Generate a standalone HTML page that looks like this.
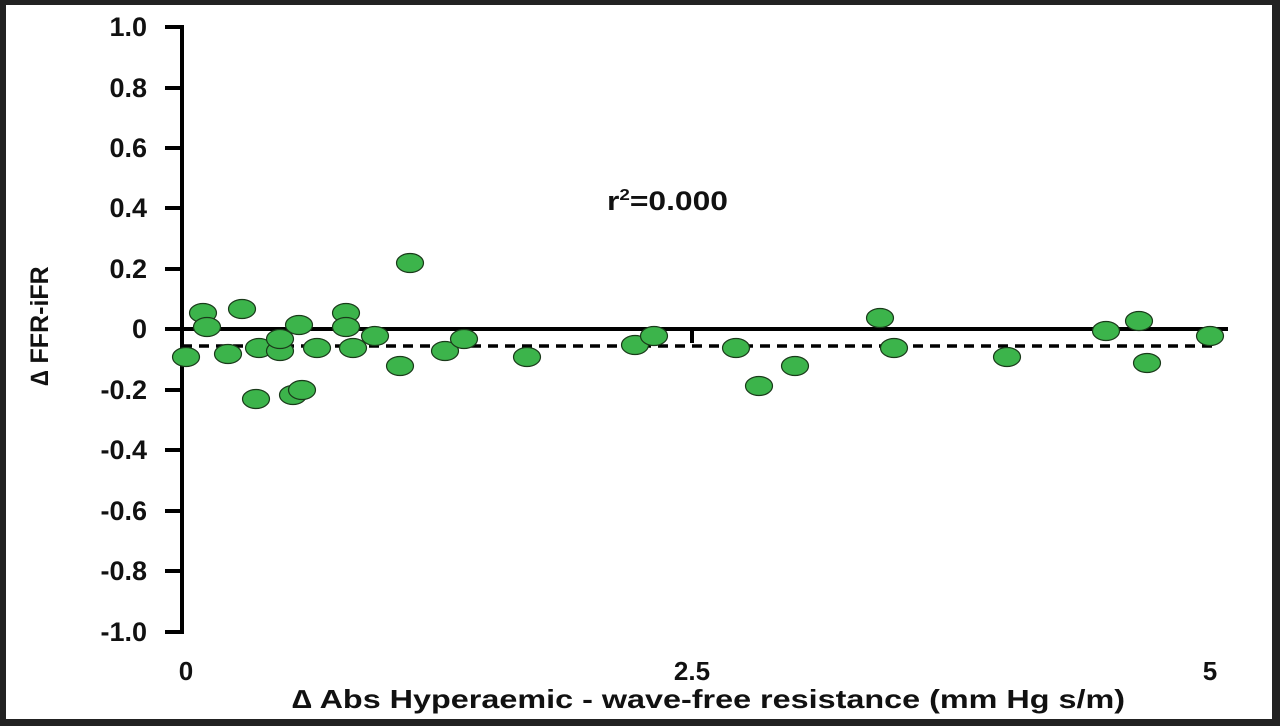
<!DOCTYPE html>
<html><head><style>
html,body{margin:0;padding:0;background:#222;}
</style></head><body>
<svg width="1280" height="726" xmlns="http://www.w3.org/2000/svg" style="display:block">
<rect x="0" y="0" width="1280" height="726" fill="#222"/>
<rect x="6" y="5" width="1266" height="714" fill="#fff"/>
<g font-family="Liberation Sans, sans-serif" font-weight="bold" font-size="27" fill="#111" text-anchor="end">
<text x="147" y="36">1.0</text>
<text x="147" y="97">0.8</text>
<text x="147" y="157">0.6</text>
<text x="147" y="217">0.4</text>
<text x="147" y="278">0.2</text>
<text x="147" y="338">0</text>
<text x="147" y="399">-0.2</text>
<text x="147" y="459">-0.4</text>
<text x="147" y="520">-0.6</text>
<text x="147" y="580">-0.8</text>
<text x="147" y="641">-1.0</text>
</g>
<g stroke="#000" stroke-width="4" fill="none">
<line x1="182" y1="25" x2="182" y2="634"/>
<path d="M165 27H182M165 88H182M165 148H182M165 208H182M165 269H182M165 390H182M165 450H182M165 511H182M165 571H182M165 632H182"/>
<line x1="165" y1="329" x2="1228" y2="329"/>
<line x1="692" y1="329" x2="692" y2="343"/>
</g>
<line x1="182" y1="346" x2="1212" y2="346" stroke="#000" stroke-width="3.5" stroke-dasharray="10,7"/>
<g fill="#3cb44b" stroke="#1a3a1a" stroke-width="1.2">
<ellipse cx="186" cy="357" rx="13.5" ry="9.5"/>
<ellipse cx="203" cy="313" rx="13.5" ry="9.5"/>
<ellipse cx="207" cy="327" rx="13.5" ry="9.5"/>
<ellipse cx="228" cy="354" rx="13.5" ry="9.5"/>
<ellipse cx="242" cy="309" rx="13.5" ry="9.5"/>
<ellipse cx="256" cy="399" rx="13.5" ry="9.5"/>
<ellipse cx="259" cy="348" rx="13.5" ry="9.5"/>
<ellipse cx="280" cy="351" rx="13.5" ry="9.5"/>
<ellipse cx="280" cy="339" rx="13.5" ry="9.5"/>
<ellipse cx="293" cy="395" rx="13.5" ry="9.5"/>
<ellipse cx="302" cy="390" rx="13.5" ry="9.5"/>
<ellipse cx="299" cy="325" rx="13.5" ry="9.5"/>
<ellipse cx="317" cy="348" rx="13.5" ry="9.5"/>
<ellipse cx="346" cy="313" rx="13.5" ry="9.5"/>
<ellipse cx="346" cy="327" rx="13.5" ry="9.5"/>
<ellipse cx="353" cy="348" rx="13.5" ry="9.5"/>
<ellipse cx="375" cy="336" rx="13.5" ry="9.5"/>
<ellipse cx="400" cy="366" rx="13.5" ry="9.5"/>
<ellipse cx="410" cy="263" rx="13.5" ry="9.5"/>
<ellipse cx="445" cy="351" rx="13.5" ry="9.5"/>
<ellipse cx="464" cy="339" rx="13.5" ry="9.5"/>
<ellipse cx="527" cy="357" rx="13.5" ry="9.5"/>
<ellipse cx="635" cy="345" rx="13.5" ry="9.5"/>
<ellipse cx="654" cy="336" rx="13.5" ry="9.5"/>
<ellipse cx="736" cy="348" rx="13.5" ry="9.5"/>
<ellipse cx="759" cy="386" rx="13.5" ry="9.5"/>
<ellipse cx="795" cy="366" rx="13.5" ry="9.5"/>
<ellipse cx="880" cy="318" rx="13.5" ry="9.5"/>
<ellipse cx="894" cy="348" rx="13.5" ry="9.5"/>
<ellipse cx="1007" cy="357" rx="13.5" ry="9.5"/>
<ellipse cx="1106" cy="331" rx="13.5" ry="9.5"/>
<ellipse cx="1139" cy="321" rx="13.5" ry="9.5"/>
<ellipse cx="1147" cy="363" rx="13.5" ry="9.5"/>
<ellipse cx="1210" cy="336" rx="13.5" ry="9.5"/>
</g>
<g font-family="Liberation Sans, sans-serif" font-weight="bold" fill="#111">
<text x="607" y="210" font-size="27" textLength="121" lengthAdjust="spacingAndGlyphs">r<tspan font-size="16" dy="-10">2</tspan><tspan dy="10">=0.000</tspan></text>
<text x="186" y="680" font-size="26" text-anchor="middle">0</text>
<text x="692" y="680" font-size="26" text-anchor="middle">2.5</text>
<text x="1210" y="680" font-size="26" text-anchor="middle">5</text>
<text x="292" y="708" font-size="26" textLength="833" lengthAdjust="spacingAndGlyphs">∆ Abs Hyperaemic - wave-free resistance (mm Hg s/m)</text>
<text transform="translate(48,326) rotate(-90)" font-size="25" text-anchor="middle">∆ FFR-iFR</text>
</g>
</svg>
</body></html>
